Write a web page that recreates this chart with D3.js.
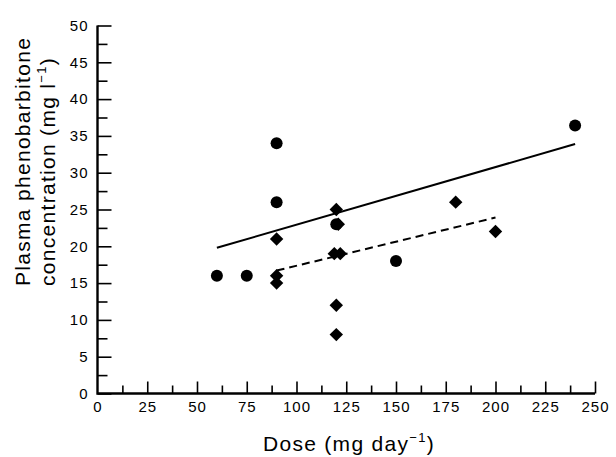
<!DOCTYPE html>
<html>
<head>
<meta charset="utf-8">
<script src="https://cdn.jsdelivr.net/npm/d3@7"></script>
<style>
    body { margin: 0; background: #fff; }
    svg { display: block; font-family: "Liberation Sans", Arial, sans-serif; }
</style>
</head>
<body>
<div id="chart"></div>
<script>
// values
const circleDose = [60, 75, 90, 90, 120, 150, 240];
const circleConc = [16, 16, 34, 26, 23, 18, 36.4];

const diamondDose = [90, 90, 90, 120, 121, 119, 122, 120, 120, 180, 200];
const diamondConc = [21, 16, 15, 25, 23, 19, 19, 12, 8, 26, 22];

// regression lines (end points)
const solidDose = [60, 240];
const solidConc = [19.8, 33.9];
const dashedDose = [90, 200];
const dashedConc = [16.7, 23.9];

const xTickValues = [0, 25, 50, 75, 100, 125, 150, 175, 200, 225, 250];
const yTickValues = [0, 5, 10, 15, 20, 25, 30, 35, 40, 45, 50];

const width = 616, height = 457;

const svg = d3.select("#chart")
    .append("svg")
    .attr("width", width)
    .attr("height", height);

const x = d3.scaleLinear().domain([0, 250]).range([97.5, 595]);
const y = d3.scaleLinear().domain([0, 50]).range([393.5, 25.5]);

// minor ticks (no labels)
svg.append("g")
    .attr("transform", `translate(0,${y(0)})`)
    .call(d3.axisBottom(x)
        .tickValues(d3.range(12.5, 250, 25))
        .tickSizeInner(-8)
        .tickSizeOuter(0)
        .tickFormat(""))
    .call(g => g.select(".domain").remove())
    .call(g => g.selectAll(".tick line").attr("stroke-width", 1.6));

svg.append("g")
    .attr("transform", `translate(${x(0)},0)`)
    .call(d3.axisLeft(y)
        .tickValues(d3.range(2.5, 50, 5))
        .tickSizeInner(-10)
        .tickSizeOuter(0)
        .tickFormat(""))
    .call(g => g.select(".domain").remove())
    .call(g => g.selectAll(".tick line").attr("stroke-width", 1.6));

// major ticks + labels
svg.append("g")
    .attr("transform", `translate(0,${y(0)})`)
    .call(d3.axisBottom(x)
        .tickValues(xTickValues.filter(d => d > 0))
        .tickSizeInner(-12)
        .tickSizeOuter(0)
        .tickPadding(8))
    .call(g => g.select(".domain").remove())
    .call(g => g.selectAll(".tick line").attr("stroke-width", 1.6))
    .call(g => g.selectAll(".tick text").attr("font-size", 15).attr("letter-spacing", 1).attr("font-family", null).attr("fill", "#000"));

// the 0 label on x axis (no tick line there)
svg.append("text")
    .attr("x", x(0))
    .attr("y", y(0) + 8)
    .attr("dy", "0.71em")
    .attr("text-anchor", "middle")
    .attr("font-size", 15)
    .text(xTickValues[0]);

svg.append("g")
    .attr("transform", `translate(${x(0)},0)`)
    .call(d3.axisLeft(y)
        .tickValues(yTickValues)
        .tickSizeInner(-14)
        .tickSizeOuter(0)
        .tickPadding(9))
    .call(g => g.select(".domain").remove())
    .call(g => g.selectAll(".tick line").attr("stroke-width", 1.6))
    .call(g => g.selectAll(".tick text").attr("font-size", 15).attr("letter-spacing", 1).attr("font-family", null).attr("fill", "#000"));

// axis lines
svg.append("path")
    .attr("d", `M${x(0)},${y(50)}V${y(0)}H${x(250)}`)
    .attr("fill", "none")
    .attr("stroke", "#000")
    .attr("stroke-width", 2.4);

// fit lines
const line = d3.line().x(d => x(d[0])).y(d => y(d[1]));

svg.append("path")
    .attr("d", line(d3.zip(solidDose, solidConc)))
    .attr("fill", "none")
    .attr("stroke", "#000")
    .attr("stroke-width", 2);

svg.append("path")
    .attr("d", line(d3.zip(dashedDose, dashedConc)))
    .attr("fill", "none")
    .attr("stroke", "#000")
    .attr("stroke-width", 2)
    .attr("stroke-dasharray", "8,5");

// circles
svg.append("g")
    .selectAll("circle")
    .data(d3.zip(circleDose, circleConc))
    .join("circle")
    .attr("cx", d => x(d[0]))
    .attr("cy", d => y(d[1]))
    .attr("r", 6)
    .attr("fill", "#000");

// diamonds
const diamond = d3.symbol().type(d3.symbolSquare).size(90);
svg.append("g")
    .selectAll("path")
    .data(d3.zip(diamondDose, diamondConc))
    .join("path")
    .attr("d", diamond)
    .attr("transform", d => `translate(${x(d[0])},${y(d[1])}) rotate(45)`)
    .attr("fill", "#000");

// x label
const xLabel = svg.append("text")
    .attr("x", 349)
    .attr("y", 451)
    .attr("text-anchor", "middle")
    .attr("font-size", 21)
    .attr("letter-spacing", 1.3);
xLabel.append("tspan").text("Dose (mg day");
xLabel.append("tspan").attr("dy", -9).attr("font-size", 13).text("\u22121");
xLabel.append("tspan").attr("dy", 9).text(")");

// y label, two lines, both starting from the same point
const yLabel = svg.append("g")
    .attr("transform", "translate(0,286) rotate(-90)");

yLabel.append("text")
    .attr("x", 0)
    .attr("y", 30)
    .attr("font-size", 21)
    .attr("letter-spacing", 1.3)
    .text("Plasma phenobarbitone");

const yLine2 = yLabel.append("text")
    .attr("x", 0)
    .attr("y", 55)
    .attr("font-size", 21)
    .attr("letter-spacing", 1.3);
yLine2.append("tspan").text("concentration (mg l");
yLine2.append("tspan").attr("dy", -9).attr("font-size", 13).text("\u22121");
yLine2.append("tspan").attr("dy", 9).text(")");
</script>
</body>
</html>
